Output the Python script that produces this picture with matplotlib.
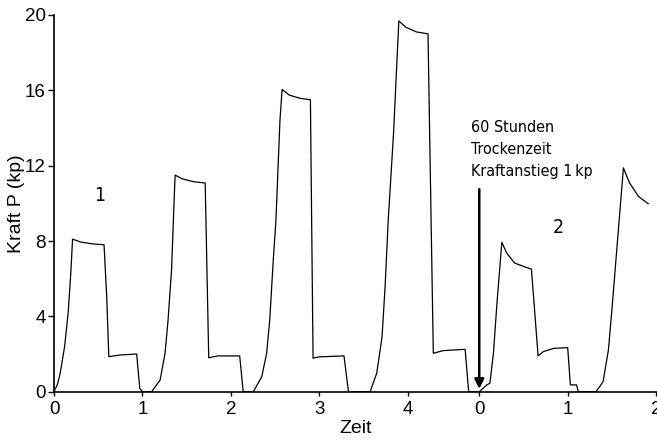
import numpy as np
import matplotlib.pyplot as plt

# Versuch 1: vier Belastungszyklen (Zeit, Kraft P in kp)
zeit_z1 = [0.00, 0.04, 0.07, 0.12, 0.16, 0.19, 0.21, 0.30, 0.43, 0.566, 0.596, 0.62, 0.75, 0.935, 0.97, 1.00]
kraft_z1 = [0.0, 0.4, 0.98, 2.4, 4.17, 6.3, 8.1, 7.95, 7.85, 7.8, 5.05, 1.86, 1.95, 2.0, 0.18, 0.0]

zeit_z2 = [1.105, 1.20, 1.256, 1.29, 1.33, 1.35, 1.37, 1.45, 1.58, 1.71, 1.75, 1.85, 2.10, 2.14]
kraft_z2 = [0.0, 0.62, 2.04, 3.8, 6.5, 9.1, 11.5, 11.3, 11.15, 11.08, 1.8, 1.9, 1.9, 0.0]

zeit_z3 = [2.255, 2.35, 2.405, 2.44, 2.48, 2.51, 2.556, 2.58, 2.66, 2.78, 2.90, 2.93, 3.00, 3.28, 3.33]
kraft_z3 = [0.0, 0.8, 2.04, 3.8, 7.0, 9.1, 14.45, 16.05, 15.75, 15.58, 15.5, 1.78, 1.85, 1.9, 0.0]

zeit_z4 = [3.575, 3.65, 3.71, 3.745, 3.78, 3.84, 3.90, 3.98, 4.10, 4.23, 4.29, 4.40, 4.65, 4.69]
kraft_z4 = [0.0, 0.98, 2.9, 5.6, 9.1, 13.7, 19.68, 19.35, 19.1, 19.0, 2.04, 2.18, 2.25, 0.0]

# Versuch 2: nach 60 Stunden Trockenzeit
zeit_v2 = [0.00, 0.085, 0.12, 0.16, 0.20, 0.255, 0.31, 0.40, 0.53, 0.59, 0.665, 0.725, 0.84, 1.00,
           1.03, 1.10, 1.12, 1.32, 1.40, 1.46, 1.50, 1.63, 1.70, 1.80, 1.91]
kraft_v2 = [0.0, 0.36, 0.45, 2.04, 4.7, 7.93, 7.36, 6.83, 6.6, 6.51, 1.9, 2.13, 2.3, 2.34,
            0.36, 0.36, 0.0, 0.0, 0.53, 2.2, 4.35, 11.88, 11.08, 10.37, 9.98]

ticks_v1 = [0, 1, 2, 3, 4]
ticks_v2 = [0, 1, 2]
y_ticks = [0, 4, 8, 12, 16, 20]

versatz = 4.81  # Lage des zweiten Zeitnullpunkts auf der Achse

zeit_1 = zeit_z1 + zeit_z2 + zeit_z3 + zeit_z4 + [versatz]
kraft_1 = kraft_z1 + kraft_z2 + kraft_z3 + kraft_z4 + [0.0]
zeit_2 = np.array(zeit_v2) + versatz

plt.rcParams['font.family'] = ['Liberation Sans', 'DejaVu Sans']

fig = plt.figure(figsize=(6.57, 4.43), dpi=100)
ax = fig.add_axes([54 / 657, 51.3 / 443, 1 - 54 / 657, 376.7 / 443])

ax.plot(zeit_1, kraft_1, color='black', lw=0.9)
ax.plot(zeit_2, kraft_v2, color='black', lw=0.9)

ax.set_xlim(0, 6.82)
ax.set_ylim(0, 20)
ax.spines['top'].set_visible(False)
ax.spines['right'].set_visible(False)
ax.spines['left'].set_linewidth(1.2)
ax.spines['bottom'].set_linewidth(1.2)

ax.set_xticks(ticks_v1 + [t + versatz for t in ticks_v2])
ax.set_xticklabels([str(t) for t in ticks_v1 + ticks_v2])
ax.set_yticks(y_ticks)
ax.tick_params(axis='x', direction='out', length=3, width=1, pad=4, labelsize=13.5)
ax.tick_params(axis='y', direction='out', length=4.5, width=1, pad=1.5, labelsize=13.5)

ax.set_xlabel('Zeit', fontsize=14)
ax.xaxis.set_label_coords(0.5, -0.075)
ax.set_ylabel('Kraft P (kp)', fontsize=14)
ax.yaxis.set_label_coords(-0.048, 0.5)

schmal = dict(family='DejaVu Sans', fontstretch='condensed')
ax.text(0.52, 10.4, '1', fontsize=14, ha='center', va='center', **schmal)
ax.text(5.70, 8.7, '2', fontsize=14, ha='center', va='center', **schmal)

ax.text(4.717, 14.45, '60 Stunden\nTrockenzeit\nKraftanstieg 1\u2009kp',
        fontsize=11.5, ha='left', va='top', linespacing=1.6, **schmal)
ax.annotate('', xy=(versatz, 0.15), xytext=(versatz, 10.75),
            arrowprops=dict(arrowstyle='-|>', color='black', lw=1.8,
                            mutation_scale=14, shrinkA=0, shrinkB=0))

fig.savefig('out.png', dpi=100)
